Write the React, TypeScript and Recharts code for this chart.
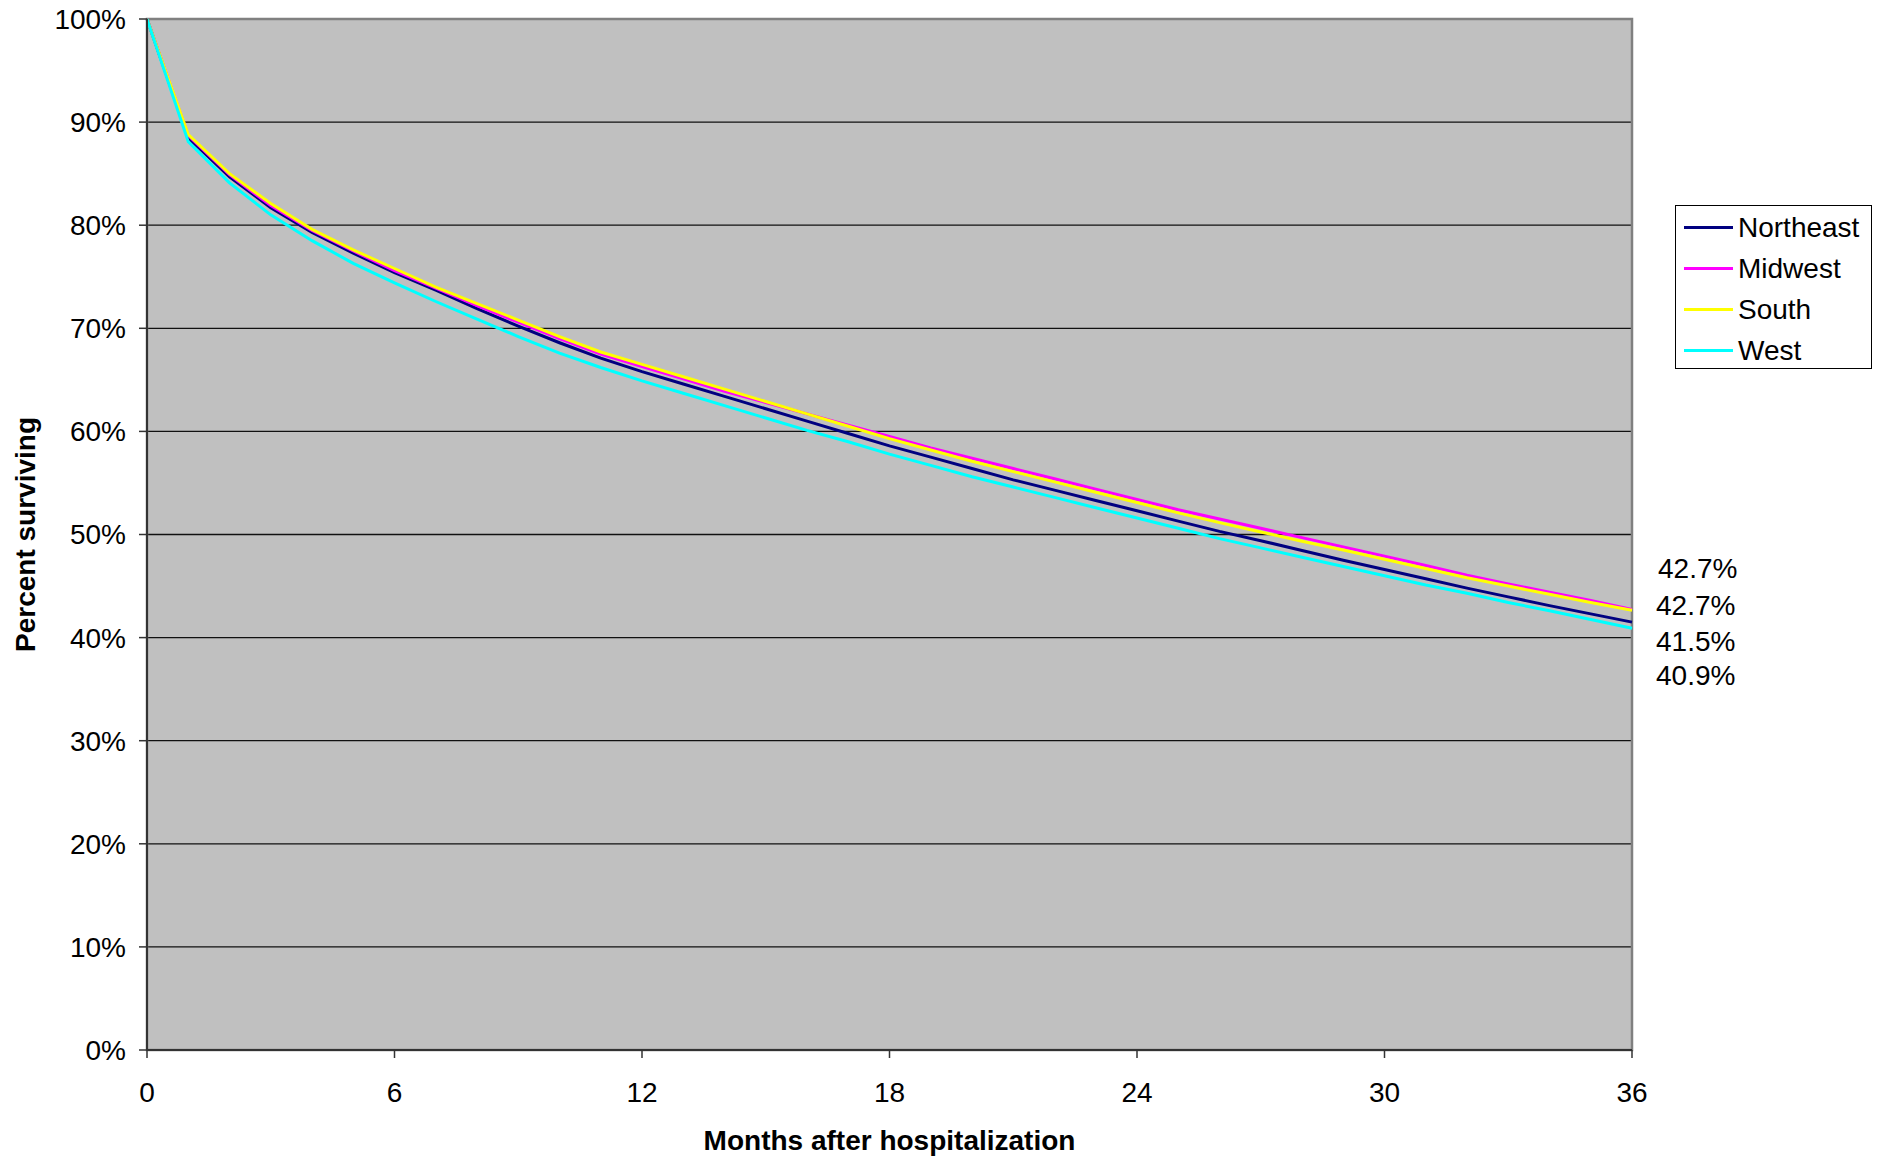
import {
  LineChart,
  Line,
  XAxis,
  YAxis,
  CartesianGrid,
  Legend,
  LabelList,
  Label,
  ReferenceArea,
} from "recharts"

// months after hospitalization (0..36)
const months = [
  0, 1, 2, 3, 4, 5, 6, 7, 8, 9, 10, 11, 12, 13, 14, 15, 16, 17, 18, 19, 20,
  21, 22, 23, 24, 25, 26, 27, 28, 29, 30, 31, 32, 33, 34, 35, 36,
]

const seriesNames = ["Northeast", "Midwest", "South", "West"]

const northeast = [
  100, 88.5, 84.7, 81.7, 79.3, 77.3, 75.4, 73.7, 71.9, 70.2, 68.6, 67.1, 65.8,
  64.6, 63.4, 62.2, 61.0, 59.8, 58.6, 57.5, 56.4, 55.3, 54.3, 53.3, 52.3, 51.3,
  50.3, 49.4, 48.45, 47.5, 46.6, 45.7, 44.8, 43.95, 43.1, 42.3, 41.5,
]
const midwest = [
  100, 88.7, 84.9, 81.9, 79.5, 77.5, 75.6, 73.9, 72.2, 70.6, 69.0, 67.5, 66.3,
  65.1, 63.9, 62.8, 61.7, 60.6, 59.5, 58.4, 57.4, 56.4, 55.4, 54.4, 53.4, 52.4,
  51.5, 50.6, 49.7, 48.8, 47.9, 47.0, 46.05, 45.2, 44.4, 43.6, 42.74,
]
const south = [
  100, 88.8, 85.0, 82.1, 79.6, 77.6, 75.8, 74.0, 72.4, 70.8, 69.2, 67.7, 66.5,
  65.3, 64.1, 62.9, 61.7, 60.5, 59.3, 58.2, 57.1, 56.1, 55.1, 54.1, 53.1, 52.1,
  51.15, 50.25, 49.35, 48.5, 47.6, 46.7, 45.8, 45.0, 44.2, 43.4, 42.66,
]
const west = [
  100, 88.1, 84.1, 81.0, 78.5, 76.3, 74.4, 72.6, 70.9, 69.2, 67.6, 66.2, 64.9,
  63.7, 62.5, 61.3, 60.1, 59.0, 57.8, 56.7, 55.6, 54.6, 53.6, 52.6, 51.6, 50.6,
  49.6, 48.7, 47.8, 46.9, 46.0, 45.1, 44.3, 43.4, 42.6, 41.75, 40.9,
]

const xTicks = [0, 6, 12, 18, 24, 30, 36]
const yTicks = [0, 10, 20, 30, 40, 50, 60, 70, 80, 90, 100]

const FONT = '"Liberation Sans", Arial, Helvetica, sans-serif'
const FS = 28

const data = months.map((m, i) => ({
  month: m,
  northeast: northeast[i],
  midwest: midwest[i],
  south: south[i],
  west: west[i],
}))

// label at the last point of a series, shifted so they don't collide
const endLabel = (dx: number, dy: number) => (props: any) => {
  const { x, y, value, index } = props
  if (index !== months.length - 1) return null
  return (
    <text
      x={x + dx}
      y={y + dy}
      fontSize={FS}
      fill="#000"
      dominantBaseline="central"
      fontFamily={FONT}
    >
      {Number(value).toFixed(1)}%
    </text>
  )
}

function LegendBox({ payload }: any) {
  const items = [...(payload || [])].sort(
    (a: any, b: any) => seriesNames.indexOf(a.value) - seriesNames.indexOf(b.value)
  )
  return (
    <div
      style={{
        border: "1.5px solid #000",
        background: "#fff",
        width: 197,
        height: 164,
        boxSizing: "border-box",
        paddingTop: 1,
      }}
    >
      {items.map((p: any) => (
        <div
          key={p.value}
          style={{ display: "flex", alignItems: "center", height: 41 }}
        >
          <div
            style={{
              width: 49,
              height: 3,
              background: p.color,
              marginLeft: 8,
              marginRight: 5,
            }}
          />
          <span style={{ fontSize: FS, color: "#000", lineHeight: 1 }}>
            {p.value}
          </span>
        </div>
      ))}
    </div>
  )
}

export default function App() {
  return (
    <div
      style={{
        position: "absolute",
        left: 0,
        top: 0,
        width: 1881,
        height: 1159,
        background: "#fff",
        fontFamily: FONT,
      }}
    >
      <LineChart
        width={1881}
        height={1159}
        data={data}
        margin={{ top: 19, right: 249, left: 0, bottom: 0 }}
      >
        <CartesianGrid
          horizontal={true}
          vertical={false}
          fill="#C0C0C0"
          stroke="#111"
          strokeWidth={1.3}
          strokeOpacity={1}
        />
        <ReferenceArea
          x1={0}
          x2={36}
          y1={0}
          y2={100}
          fill="none"
          stroke="#808080"
          strokeWidth={2.5}
          fillOpacity={0}
        />
        <XAxis
          dataKey="month"
          type="number"
          domain={[0, 36]}
          ticks={xTicks}
          height={109}
          tickSize={8}
          tickMargin={24}
          axisLine={{ stroke: "#333", strokeWidth: 2 }}
          tickLine={{ stroke: "#333", strokeWidth: 1.5 }}
          tick={{ fontSize: FS, fill: "#000" }}
        >
          <Label
            content={({ viewBox }: any) => (
              <text
                x={viewBox.x + viewBox.width / 2}
                y={1140}
                textAnchor="middle"
                dominantBaseline="central"
                fontSize={FS}
                fontWeight="bold"
                fill="#000"
                fontFamily={FONT}
              >
                Months after hospitalization
              </text>
            )}
          />
        </XAxis>
        <YAxis
          type="number"
          domain={[0, 100]}
          ticks={yTicks}
          width={147}
          tickSize={8}
          tickMargin={13}
          tickFormatter={(v) => `${v}%`}
          axisLine={{ stroke: "#333", strokeWidth: 2 }}
          tickLine={{ stroke: "#333", strokeWidth: 1.5 }}
          tick={{ fontSize: FS, fill: "#000" }}
        >
          <Label
            content={({ viewBox }: any) => {
              const cy = viewBox.y + viewBox.height / 2
              return (
                <text
                  x={25}
                  y={cy}
                  transform={`rotate(-90 25 ${cy})`}
                  textAnchor="middle"
                  dominantBaseline="central"
                  fontSize={FS}
                  fontWeight="bold"
                  fill="#000"
                  fontFamily={FONT}
                >
                  Percent surviving
                </text>
              )
            }}
          />
        </YAxis>
        <Legend
          layout="vertical"
          align="center"
          verticalAlign="middle"
          content={<LegendBox />}
          wrapperStyle={{ position: "absolute", left: 1675, top: 205, width: 197 }}
        />
        <Line
          name="Northeast"
          dataKey="northeast"
          type="linear"
          stroke="#000080"
          strokeWidth={3}
          dot={false}
          isAnimationActive={false}
        >
          <LabelList dataKey="northeast" content={endLabel(24, 19)} />
        </Line>
        <Line
          name="Midwest"
          dataKey="midwest"
          type="linear"
          stroke="#FF00FF"
          strokeWidth={3}
          dot={false}
          isAnimationActive={false}
        >
          <LabelList dataKey="midwest" content={endLabel(26, -41)} />
        </Line>
        <Line
          name="South"
          dataKey="south"
          type="linear"
          stroke="#FFFF00"
          strokeWidth={3}
          dot={false}
          isAnimationActive={false}
        >
          <LabelList dataKey="south" content={endLabel(24, -5)} />
        </Line>
        <Line
          name="West"
          dataKey="west"
          type="linear"
          stroke="#00FFFF"
          strokeWidth={3}
          dot={false}
          isAnimationActive={false}
        >
          <LabelList dataKey="west" content={endLabel(24, 47)} />
        </Line>
      </LineChart>
    </div>
  )
}
